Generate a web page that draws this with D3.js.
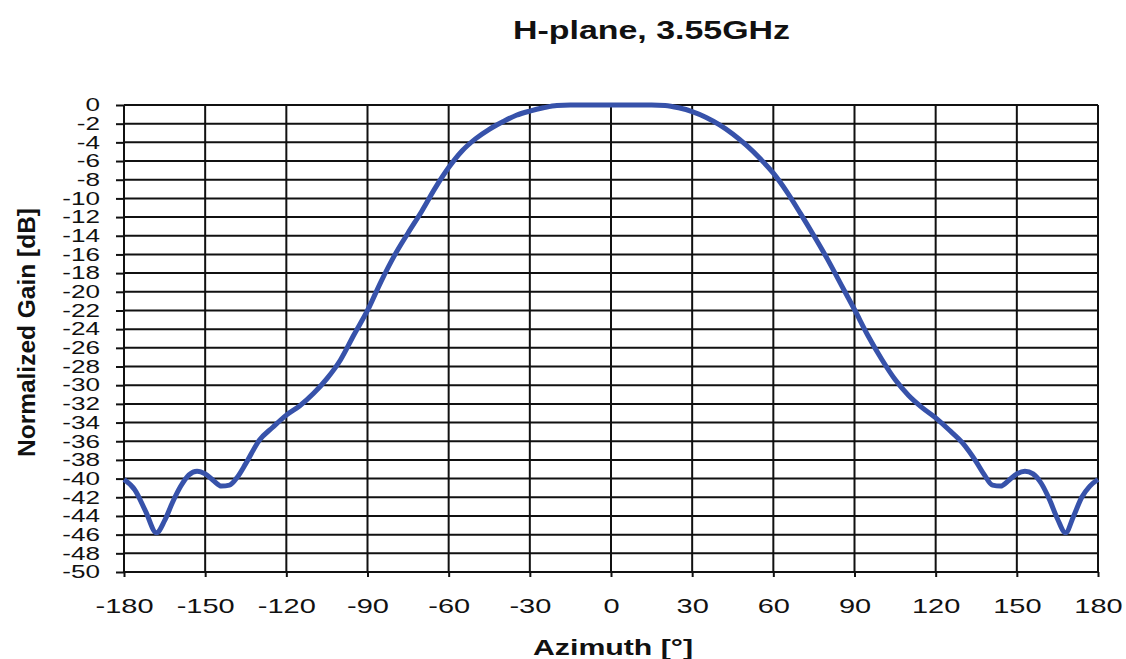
<!DOCTYPE html>
<html>
<head>
<meta charset="utf-8">
<script src="https://cdn.jsdelivr.net/npm/d3@7"></script>
<style>
	body { margin: 0; background: #fff; }
	svg { display: block; font-family: "Liberation Sans", Arial, sans-serif; }
</style>
</head>
<body>
<script>
// H-plane pattern, values
const azimuth = [
	-180, -176, -172, -168, -165, -162, -159, -156, -153, -150, -147, -144, -141, -138, -135,
	-130, -125, -120, -115, -110, -105, -100, -95, -90, -85, -80, -75, -70, -65, -60, -55,
	-50, -45, -40, -35, -30, -25, -20, -15, -10, -5, 0, 5, 10, 15, 20, 25, 30, 35, 40, 45,
	50, 55, 60, 65, 70, 75, 80, 85, 90, 95, 100, 105, 110, 115, 120, 125, 130, 135, 138,
	141, 144, 147, 150, 153, 156, 159, 162, 165, 168, 171, 174, 177, 180
];
const gain = [
	-40.1, -41.2, -43.5, -45.8, -44.5, -42.5, -40.8, -39.6, -39.2, -39.5, -40.2, -40.8, -40.7, -39.8, -38.4,
	-35.9, -34.5, -33.2, -32.2, -30.9, -29.3, -27.3, -24.6, -22.0, -18.9, -16.1, -13.7, -11.4, -8.9, -6.7, -4.9,
	-3.6, -2.6, -1.8, -1.1, -0.65, -0.3, -0.05, 0, 0, 0, 0, 0, 0, 0, -0.05, -0.3, -0.7, -1.3, -2.1, -3.1,
	-4.3, -5.7, -7.3, -9.3, -11.6, -14.0, -16.5, -19.2, -21.9, -24.7, -27.2, -29.4, -31.1, -32.4, -33.5, -34.8, -36.2, -38.2, -39.6,
	-40.7, -40.8, -40.2, -39.5, -39.2, -39.5, -40.5, -42.2, -44.3, -45.8, -44.0, -42.0, -40.8, -40.1
];
const xTicks = [-180, -150, -120, -90, -60, -30, 0, 30, 60, 90, 120, 150, 180];
const yTicks = d3.range(0, -51, -2);

const width = 1126, height = 659;
const margin = {top: 105, right: 28, bottom: 87, left: 124};
const innerW = width - margin.left - margin.right;
const innerH = height - margin.top - margin.bottom;

const svg = d3.select("body").append("svg")
	.attr("width", width)
	.attr("height", height);

const x = d3.scaleLinear().domain([-180, 180]).range([margin.left, margin.left + innerW]);
const y = d3.scaleLinear().domain([0, -50]).range([margin.top, margin.top + innerH]);

// grid
svg.append("g")
	.selectAll("line")
	.data(yTicks)
	.join("line")
	.attr("x1", x(-180)).attr("x2", x(180))
	.attr("y1", d => y(d)).attr("y2", d => y(d))
	.attr("stroke", "#111").attr("stroke-width", 2);

svg.append("g")
	.selectAll("line")
	.data(xTicks)
	.join("line")
	.attr("y1", y(0)).attr("y2", y(-50))
	.attr("x1", d => x(d)).attr("x2", d => x(d))
	.attr("stroke", "#111").attr("stroke-width", 2);

// axes (plain hyphen for negative labels, like the original)
const stretch = 1.45;
const fmt = d => String(d);

const yAxis = svg.append("g")
	.attr("transform", `translate(${margin.left},0)`)
	.call(d3.axisLeft(y).tickValues(yTicks).tickSize(8).tickFormat(fmt));
yAxis.select(".domain").remove();
yAxis.selectAll("line").attr("stroke", "#111").attr("stroke-width", 2);
yAxis.selectAll("text")
	.attr("x", -24 / stretch)
	.attr("transform", `scale(${stretch},1)`)
	.attr("font-size", 18)
	.attr("fill", "#111");

const xAxis = svg.append("g")
	.attr("transform", `translate(0,${margin.top + innerH})`)
	.call(d3.axisBottom(x).tickValues(xTicks).tickSize(5).tickFormat(fmt));
xAxis.select(".domain").remove();
xAxis.selectAll("line").attr("stroke", "#111").attr("stroke-width", 2);
xAxis.selectAll("text")
	.attr("y", 41).attr("dy", null)
	.attr("transform", `scale(${stretch},1)`)
	.attr("font-size", 20)
	.attr("fill", "#111");

// curve
const line = d3.line()
	.x((d, i) => x(azimuth[i]))
	.y(d => y(d))
	.curve(d3.curveMonotoneX);

svg.append("path")
	.datum(gain)
	.attr("fill", "none")
	.attr("stroke", "#3752aa")
	.attr("stroke-width", 5)
	.attr("stroke-linejoin", "round")
	.attr("d", line);

// labels
svg.append("text")
	.attr("x", 513).attr("y", 39)
	.attr("textLength", 277).attr("lengthAdjust", "spacingAndGlyphs")
	.attr("font-size", 26).attr("font-weight", "bold")
	.attr("fill", "#111")
	.text("H-plane, 3.55GHz");

svg.append("text")
	.attr("x", 533).attr("y", 655)
	.attr("textLength", 160).attr("lengthAdjust", "spacingAndGlyphs")
	.attr("font-size", 22).attr("font-weight", "bold")
	.attr("fill", "#111")
	.text("Azimuth [°]");

svg.append("text")
	.attr("transform", "translate(35,457) rotate(-90)")
	.attr("textLength", 249).attr("lengthAdjust", "spacingAndGlyphs")
	.attr("font-size", 24).attr("font-weight", "bold")
	.attr("fill", "#111")
	.text("Normalized Gain [dB]");
</script>
</body>
</html>
